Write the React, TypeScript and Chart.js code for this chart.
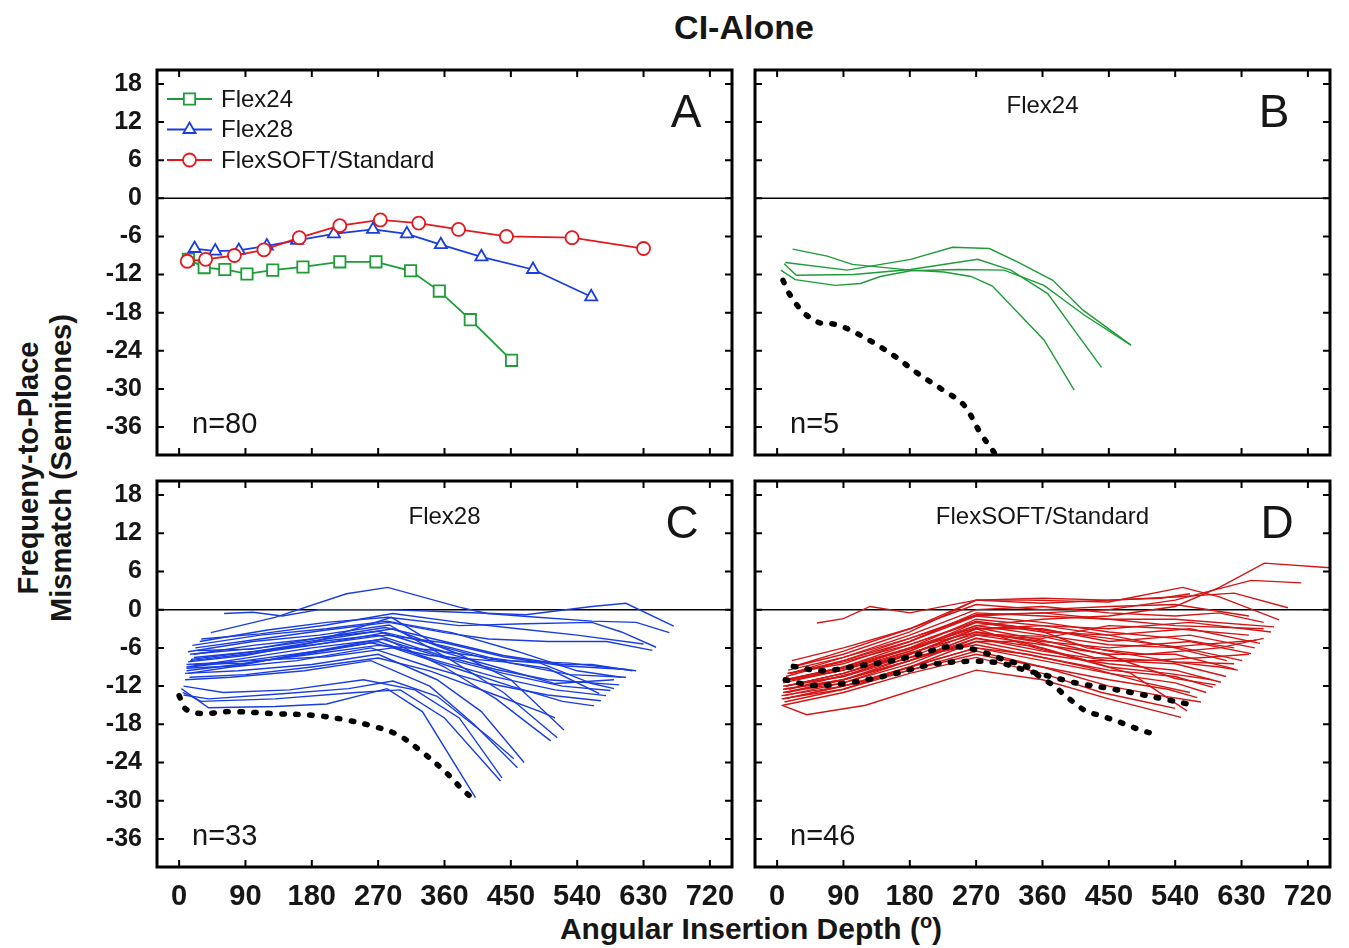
import React, { useEffect, useRef } from "react";
import { Chart, registerables } from "chart.js";

Chart.register(...registerables);

type Pt = [number, number];

// ---------- axes ----------
const X_TICKS = [0, 90, 180, 270, 360, 450, 540, 630, 720];
const Y_TICKS = [18, 12, 6, 0, -6, -12, -18, -24, -30, -36];
const X_RANGE: Pt = [-30, 750];
const Y_RANGE: Pt = [-40.4, 20.2];

// ---------- text ----------
const TITLE = "CI-Alone";
const Y_TITLE = ["Frequeny-to-Place", "Mismatch (Semitones)"];
const X_TITLE = "Angular Insertion Depth (";
const SERIES = ["Flex24", "Flex28", "FlexSOFT/Standard"];
const PANEL_LETTERS = ["A", "B", "C", "D"];
const PANEL_N = ["n=80", "n=5", "n=33", "n=46"];

// ---------- panel A: group means ----------
const FLEX24_MEAN: Pt[] = [
  [12.6, -9.6], [34, -10.9], [62, -11.2], [92, -11.9], [127, -11.3], [168, -10.8],
  [218, -10.0], [267, -10.0], [314, -11.4], [353, -14.6], [395, -19.1], [451, -25.5],
];
const FLEX28_MEAN: Pt[] = [
  [21, -7.9], [49, -8.3], [81, -8.2], [119, -7.5], [160, -6.6], [210, -5.6],
  [263, -4.9], [309, -5.6], [355, -7.3], [410, -9.2], [480, -11.2], [559, -15.5],
];
const FLEXSOFT_MEAN: Pt[] = [
  [11, -9.9], [36, -9.6], [75, -9.0], [115, -8.1], [163, -6.2], [218, -4.3],
  [273, -3.4], [325, -3.9], [379, -4.9], [444, -6.0], [533, -6.2], [630, -7.9],
];

// ---------- panel B: Flex24 subjects ----------
const FLEX24_SUBJECTS: Pt[][] = [
  [[21, -8.0], [68, -9.1], [102, -10.4], [181, -11.3], [226, -11.6], [263, -12.3], [292, -13.8], [362, -22.3], [403, -30.2]],
  [[11, -10.1], [95, -11.3], [181, -9.6], [238, -7.7], [288, -7.9], [326, -10.0], [374, -12.9], [415, -17.6], [480, -23.1]],
  [[9.5, -10.3], [26, -12.1], [104, -12.0], [181, -11.2], [272, -9.6], [317, -11.3], [367, -15.0], [440, -26.6]],
  [[5, -11.3], [24.5, -12.8], [79, -13.7], [113, -13.4], [140, -12.3], [181, -11.4], [245, -11.2], [308, -11.3], [362, -13.7], [417, -18.4], [480, -23.1]],
];
const FLEX24_REF: Pt[] = [
  [8, -12.9], [15, -14.7], [27, -16.8], [40, -18.4], [58, -19.6], [77, -19.8], [95, -20.5],
  [129, -22.6], [160, -24.9], [190, -27.5], [224, -30.1], [253, -32.5], [276, -37.0], [295, -40.1], [305, -42],
];

// ---------- panel C: Flex28 subjects ----------
const FLEX28_SUBJECTS: Pt[][] = [
  [[43, -3.6], [130, -1.2], [227, 2.5], [283, 3.5], [380, 0.4], [418, -0.6], [486, -1.2], [560, -1.8], [620, -2.0], [665, -3.6]],
  [[61, -0.6], [100, -0.4], [140, -1.0], [190, 0], [283, 0], [380, -0.4], [470, -0.8], [560, 0.5], [606, 1.0], [671, -2.6]],
  [[28, -5.0], [120, -3.2], [200, -2.0], [283, -1.2], [380, -2.5], [470, -2.2], [560, -2.0], [600, -3.5], [647, -5.9]],
  [[22, -6.0], [110, -4.6], [200, -3.2], [285, -2.0], [360, -3.6], [420, -4.6], [500, -5.0], [580, -5.0], [642, -6.4]],
  [[20, -7.0], [100, -5.6], [180, -4.6], [280, -2.8], [360, -5.0], [440, -7.2], [520, -8.6], [560, -8.6], [615, -9.6]],
  [[15, -8.0], [90, -7.0], [180, -5.6], [280, -3.6], [370, -6.0], [450, -8.4], [530, -10.2], [606, -10.6]],
  [[20, -7.5], [100, -6.6], [190, -5.0], [270, -4.0], [350, -7.0], [430, -9.4], [500, -11.0], [597, -11.8]],
  [[15, -9.0], [90, -8.0], [180, -6.6], [275, -4.6], [360, -7.6], [440, -10.0], [520, -12.0], [585, -12.7]],
  [[10, -9.6], [80, -8.6], [170, -7.0], [270, -5.0], [350, -8.0], [430, -10.6], [510, -12.6], [579, -13.5]],
  [[12, -10.0], [70, -9.0], [160, -8.0], [260, -6.0], [340, -9.0], [420, -11.6], [500, -13.4], [572, -14.3]],
  [[10, -8.6], [100, -8.0], [200, -7.4], [290, -6.0], [370, -9.0], [450, -12.0], [520, -14.4], [563, -15.1]],
  [[15, -7.0], [110, -6.0], [200, -4.6], [290, -3.0], [380, -7.0], [450, -11.0], [522, -18.9]],
  [[12, -6.6], [100, -5.0], [190, -4.0], [285, -2.4], [370, -8.0], [440, -13.0], [513, -20.1]],
  [[10, -9.0], [90, -7.6], [180, -6.0], [280, -4.6], [360, -9.0], [430, -14.0], [504, -20.6]],
  [[8, -10.0], [80, -9.6], [180, -8.6], [270, -7.0], [350, -11.0], [410, -16.0], [468, -24.0]],
  [[8, -11.0], [70, -10.6], [170, -9.6], [260, -8.0], [340, -12.0], [400, -18.0], [459, -24.8]],
  [[6, -12.0], [60, -13.0], [150, -12.6], [250, -11.0], [320, -12.6], [380, -17.0], [438, -26.4]],
  [[5, -13.0], [30, -14.4], [130, -14.0], [240, -13.0], [300, -12.6], [360, -17.0], [436, -26.9]],
  [[3, -12.4], [40, -15.4], [130, -15.2], [200, -14.8], [282, -12.4], [330, -16.0], [402, -29.5]],
  [[18, -5.6], [110, -4.0], [200, -3.0], [282, -1.8], [370, -3.6], [460, -6.6], [540, -9.6], [600, -10.6]],
  [[25, -6.4], [100, -6.2], [190, -4.4], [270, -3.4], [360, -6.6], [450, -8.0], [530, -8.4], [620, -9.6]],
  [[12, -8.2], [90, -7.2], [180, -5.2], [288, -1.2], [350, -5.6], [420, -7.8], [490, -8.4], [560, -11.6], [590, -12.4]],
  [[10, -9.2], [80, -8.8], [170, -6.8], [260, -5.2], [340, -7.2], [440, -8.2], [500, -9.2], [570, -13.2]],
  [[30, -4.6], [110, -3.8], [200, -2.4], [290, -0.6], [380, -2.0], [460, -3.0], [540, -4.0], [630, -5.4]],
  [[14, -10.6], [90, -10.2], [180, -9.0], [270, -7.6], [340, -9.6], [420, -13.0], [490, -16.0], [510, -17.0]],
  [[6, -13.4], [40, -14.0], [140, -13.2], [230, -12.4], [290, -11.2], [350, -13.6], [420, -20.0], [454, -23.4]],
  [[16, -7.8], [100, -6.6], [190, -5.4], [280, -4.0], [360, -5.2], [440, -7.4], [520, -8.8], [608, -9.4]],
  [[20, -8.6], [90, -8.4], [180, -7.0], [270, -5.6], [350, -6.4], [430, -9.0], [510, -11.6], [590, -11.0]],
];
const FLEX28_REF: Pt[] = [
  [0, -13.5], [9, -15.6], [29, -16.3], [70, -16.0], [126, -16.3], [183, -16.6], [221, -17.2],
  [260, -18.2], [296, -19.6], [328, -22.2], [357, -25.0], [371, -26.6], [384, -28.2], [398, -29.6],
];

// ---------- panel D: FlexSOFT/Standard subjects ----------
const FLEXSOFT_SUBJECTS: Pt[][] = [
  [[20, -11], [90, -9.5], [180, -6], [270, -2.5], [360, -1.5], [450, -1], [540, 0.5], [600, 3.5], [661, 7.3], [760, 6.5]],
  [[18, -10], [90, -8], [180, -4.5], [270, -1], [360, -0.5], [450, 0], [540, 1.5], [643, 4.6], [711, 4.2]],
  [[54, -2.1], [90, -1.4], [126, 0.5], [180, -0.5], [270, 1.5], [360, 1.0], [450, 1.5], [540, 2.0], [620, 2.6], [693, 0.3]],
  [[20, -9], [90, -7], [180, -3.5], [270, 1.5], [340, 1.5], [450, 1.2], [550, 3.5], [600, 2], [681, -1.6]],
  [[15, -10], [90, -8.5], [180, -5], [270, -0.5], [360, -1], [450, -1.5], [540, -1.5], [674, -2.7]],
  [[15, -11], [90, -9.5], [180, -6], [270, -1.5], [360, -2.5], [450, -3], [560, -2], [670, -3.5]],
  [[12, -12], [90, -10], [180, -6.5], [270, -2], [360, -3.5], [450, -4], [560, -3], [655, -5.3]],
  [[10, -12], [90, -10.5], [180, -7], [270, -3], [360, -3], [450, -5], [560, -4], [648, -6.0]],
  [[10, -13], [90, -11], [180, -7.5], [270, -3.5], [360, -5], [450, -6], [560, -5], [643, -6.9]],
  [[8, -11.5], [90, -9.5], [180, -6.5], [270, -2.5], [360, -4], [450, -5.5], [550, -6], [631, -8.0]],
  [[8, -12.5], [90, -11], [180, -8], [270, -4], [360, -5.5], [450, -7], [540, -7], [620, -9.3]],
  [[8, -13], [90, -11.5], [180, -8.5], [270, -4.5], [360, -6.5], [450, -8], [540, -8.5], [609, -10.5]],
  [[8, -14], [90, -12], [180, -9], [270, -5], [360, -7], [450, -8.5], [540, -9.5], [602, -11.4]],
  [[8, -12], [90, -10.5], [180, -7.5], [270, -5.5], [360, -7.5], [450, -9.5], [540, -10.5], [591, -12.2]],
  [[6, -13.5], [90, -12], [180, -9], [270, -6], [360, -8], [450, -10], [540, -11.5], [582, -13.0]],
  [[6, -14], [90, -12.5], [180, -9.5], [270, -6.5], [360, -9], [450, -11], [530, -12.5], [570, -13.8]],
  [[6, -15], [40, -16.5], [120, -15], [270, -9.5], [360, -11], [450, -14], [548, -16.9]],
  [[10, -12.5], [90, -11], [180, -8], [270, -4], [360, -4.5], [450, -2.5], [540, -3], [640, -4]],
  [[12, -10.5], [90, -8], [180, -5], [270, -1], [360, -2], [450, -3.5], [540, -4.5], [620, -6]],
  [[15, -9.5], [90, -7.5], [180, -4], [270, 0], [360, 0.5], [450, -0.5], [540, -1], [600, -0.5], [660, -2]],
  [[20, -8], [90, -6], [180, -3], [270, 1.5], [360, 1.8], [450, 1.5], [520, 1.8], [560, 2.5]],
  [[10, -13.5], [90, -11.5], [180, -8], [270, -5], [330, -5], [400, -7.5], [480, -10], [556, -15.9]],
  [[10, -14.5], [90, -12.5], [180, -9], [270, -6], [340, -7], [420, -9], [500, -11.5], [560, -13]],
  [[12, -12], [90, -10], [180, -7], [270, -3], [350, -6], [420, -8], [500, -8], [580, -7.5], [640, -7]],
  [[12, -11], [90, -9], [180, -5.5], [270, -2], [350, -3], [420, -6], [500, -7], [600, -6], [660, -4.5]],
  [[14, -11], [90, -9], [180, -6], [270, -3.5], [350, -5], [430, -7.5], [520, -8], [600, -9], [625, -9.5]],
  [[14, -13], [90, -11], [180, -8], [270, -4.5], [360, -6], [450, -9], [530, -10], [590, -11]],
  [[16, -12.5], [100, -10], [180, -7], [270, -3], [360, -2.5], [450, -4], [540, -6], [610, -8]],
  [[18, -10], [90, -7.5], [180, -4.5], [270, -0.8], [360, -0.5], [450, -1.5], [540, -2.5], [660, -3]],
  [[10, -14], [90, -12], [180, -9.5], [270, -7], [360, -9], [450, -12], [520, -13.5], [575, -14.5]],
  [[8, -15], [90, -13], [180, -10], [270, -7.5], [360, -10], [440, -13], [500, -14.5], [540, -15.5]],
  [[20, -9], [90, -6.5], [180, -3], [270, 0.8], [360, 0], [450, 0.5], [540, 0.8], [640, -1]],
  [[12, -12], [90, -10], [180, -6.8], [270, -3.8], [360, -4.2], [450, -6.5], [540, -8.2], [620, -8.5]],
  [[10, -11], [90, -9.2], [180, -6.2], [270, -2.8], [360, -4.8], [450, -7.2], [540, -10.8], [595, -11.8]],
  [[14, -10], [90, -8.2], [180, -5.5], [270, -1.8], [360, -3.2], [450, -4.5], [540, -5.8], [650, -4.8]],
];
const FLEXSOFT_REF_1: Pt[] = [
  [22, -8.9], [61.5, -9.6], [100.5, -9.0], [137, -8.4], [173, -7.6], [210, -6.4], [233, -5.8], [251, -5.9],
  [272, -6.4], [309, -7.9], [340, -9.0], [357, -10.6], [375, -11.9], [389, -13.3], [403, -14.6], [420, -16.0],
  [438, -16.6], [456, -17.3], [475, -18.1], [493, -18.9], [511, -19.5],
];
const FLEXSOFT_REF_2: Pt[] = [
  [11, -11.0], [48.5, -11.9], [90, -11.6], [126.5, -10.9], [158, -10.1], [210, -8.6], [262, -8.1], [303, -8.4],
  [340, -9.6], [371, -10.5], [391, -11.1], [409, -11.6], [447, -12.3], [485, -13.1], [523, -14.0], [561, -14.9],
];

// ---------- colours ----------
const GREEN = "#1e9c38";
const BLUE = "#1a3de0";
const RED = "#d31515";
const RED_MEAN = "#e3191e";
const FONT = "'Liberation Sans', Arial, Helvetica, sans-serif";
const TEXT = "#161616";

const toXY = (l: Pt[]) => l.map(([x, y]) => ({ x, y }));

const subjectSets = (lines: Pt[][], color: string) =>
  lines.map((l) => ({
    data: toXY(l),
    borderColor: color,
    borderWidth: 1.4,
    pointRadius: 0,
    tension: 0,
    fill: false,
  }));

const dottedSet = (l: Pt[]) => ({
  data: toXY(l),
  borderColor: "#000",
  borderWidth: 5.5,
  borderDash: [2.5, 11.5],
  borderCapStyle: "round",
  pointRadius: 0,
  tension: 0.35,
  fill: false,
});

const meanSet = (l: Pt[], label: string, color: string, style: string, r: number) => ({
  label,
  data: toXY(l),
  borderColor: color,
  borderWidth: 1.8,
  pointStyle: style,
  pointRadius: r,
  pointBorderWidth: 1.8,
  pointBorderColor: color,
  pointBackgroundColor: "#fff",
  tension: 0,
  fill: false,
});

function drawMarker(ctx: CanvasRenderingContext2D, style: string, x: number, y: number, r: number) {
  ctx.beginPath();
  if (style === "rect") {
    const s = Math.SQRT1_2 * r;
    ctx.rect(x - s, y - s, 2 * s, 2 * s);
  } else if (style === "triangle") {
    const a = (2 * Math.PI) / 3;
    for (let i = 0; i < 3; i++) {
      const ang = i * a;
      const px = x + Math.sin(ang) * r;
      const py = y - Math.cos(ang) * r;
      if (i === 0) ctx.moveTo(px, py);
      else ctx.lineTo(px, py);
    }
    ctx.closePath();
  } else {
    ctx.arc(x, y, r, 0, Math.PI * 2);
  }
  ctx.fill();
  ctx.stroke();
}

const framePlugin = {
  id: "frame",
  beforeDatasetsDraw(chart: any) {
    const { ctx, chartArea: a, scales } = chart;
    const y0 = scales.y.getPixelForValue(0);
    ctx.save();
    ctx.strokeStyle = "#000";
    ctx.lineWidth = 1.5;
    ctx.beginPath();
    ctx.moveTo(a.left, y0);
    ctx.lineTo(a.right, y0);
    ctx.stroke();
    ctx.restore();
  },
  afterDraw(chart: any, _args: any, opts: any) {
    const { ctx, chartArea: a, scales } = chart;
    ctx.save();
    // inward ticks
    ctx.strokeStyle = "#000";
    ctx.lineWidth = 2;
    const tl = 7;
    ctx.beginPath();
    X_TICKS.forEach((v) => {
      const px = scales.x.getPixelForValue(v);
      ctx.moveTo(px, a.bottom);
      ctx.lineTo(px, a.bottom - tl);
      ctx.moveTo(px, a.top);
      ctx.lineTo(px, a.top + tl);
    });
    Y_TICKS.forEach((v) => {
      const py = scales.y.getPixelForValue(v);
      ctx.moveTo(a.left, py);
      ctx.lineTo(a.left + tl, py);
      ctx.moveTo(a.right, py);
      ctx.lineTo(a.right - tl, py);
    });
    ctx.stroke();
    // frame
    ctx.lineWidth = 3;
    ctx.strokeRect(a.left, a.top, a.right - a.left, a.bottom - a.top);

    ctx.fillStyle = TEXT;
    // panel letter
    ctx.font = `46px ${FONT}`;
    ctx.textAlign = "center";
    ctx.textBaseline = "middle";
    ctx.fillText(opts.letter, a.right - opts.letterDx, a.top + 44);
    // subtitle
    if (opts.subtitle) {
      ctx.font = `24px ${FONT}`;
      ctx.fillText(opts.subtitle, (a.left + a.right) / 2, a.top + 36);
    }
    // n label
    ctx.font = `29px ${FONT}`;
    ctx.textAlign = "left";
    ctx.fillText(opts.n, a.left + 35, a.bottom - 30);

    // legend (panel A)
    if (opts.legend) {
      opts.legend.forEach((it: any, i: number) => {
        const y = a.top + 29 + i * 30.5;
        ctx.strokeStyle = it.color;
        ctx.lineWidth = 1.8;
        ctx.beginPath();
        ctx.moveTo(a.left + 10, y);
        ctx.lineTo(a.left + 55, y);
        ctx.stroke();
        ctx.fillStyle = "#fff";
        drawMarker(ctx, it.style, a.left + 32.5, y, it.r);
        ctx.fillStyle = TEXT;
        ctx.font = `24px ${FONT}`;
        ctx.textAlign = "left";
        ctx.textBaseline = "middle";
        ctx.fillText(it.label, a.left + 64, y + 1);
      });
    }
    ctx.restore();
  },
};

type Box = { left: number; top: number; width: number; height: number };
type Area = { left: number; top: number; right: number; bottom: number };

function Panel(props: { box: Box; area: Area; showX: boolean; showY: boolean; datasets: any[]; deco: any }) {
  const ref = useRef<HTMLCanvasElement>(null);
  useEffect(() => {
    const { box, area, showX, showY, datasets, deco } = props;
    const yW = area.left - box.left;
    const xH = box.top + box.height - area.bottom;
    const chart = new Chart(ref.current as HTMLCanvasElement, {
      type: "line",
      data: { datasets },
      options: {
        responsive: false,
        animation: false,
        events: [],
        layout: {
          padding: { left: 0, bottom: 0, top: area.top - box.top, right: box.left + box.width - area.right },
        },
        plugins: {
          legend: { display: false },
          tooltip: { enabled: false },
          frame: deco,
        } as any,
        scales: {
          x: {
            type: "linear",
            min: X_RANGE[0],
            max: X_RANGE[1],
            grid: { display: false },
            border: { display: false },
            afterBuildTicks: (s: any) => {
              s.ticks = X_TICKS.map((v) => ({ value: v }));
            },
            afterFit: (s: any) => {
              s.height = xH;
              s.paddingLeft = 0;
              s.paddingRight = 0;
              s.paddingTop = 0;
              s.paddingBottom = 0;
            },
            ticks: {
              display: showX,
              autoSkip: false,
              maxRotation: 0,
              minRotation: 0,
              padding: 5,
              color: TEXT,
              font: { family: FONT, size: 29, weight: "bold" },
            },
          },
          y: {
            type: "linear",
            min: Y_RANGE[0],
            max: Y_RANGE[1],
            grid: { display: false },
            border: { display: false },
            afterBuildTicks: (s: any) => {
              s.ticks = Y_TICKS.map((v) => ({ value: v }));
            },
            afterFit: (s: any) => {
              s.width = yW;
              s.paddingLeft = 0;
              s.paddingRight = 0;
              s.paddingTop = 0;
              s.paddingBottom = 0;
            },
            ticks: {
              display: showY,
              autoSkip: false,
              padding: 7,
              color: TEXT,
              font: { family: FONT, size: 25, weight: "bold" },
            },
          },
        },
      } as any,
      plugins: [framePlugin as any],
    });
    return () => chart.destroy();
  }, []);
  const { box } = props;
  return (
    <canvas
      ref={ref}
      width={box.width}
      height={box.height}
      style={{ position: "absolute", left: box.left, top: box.top, width: box.width, height: box.height }}
    />
  );
}

export default function App() {
  const legend = [
    { label: SERIES[0], color: GREEN, style: "rect", r: 8 },
    { label: SERIES[1], color: BLUE, style: "triangle", r: 7 },
    { label: SERIES[2], color: RED_MEAN, style: "circle", r: 6.5 },
  ];
  const dsA = [
    meanSet(FLEXSOFT_MEAN, SERIES[2], RED_MEAN, "circle", 6.5),
    meanSet(FLEX28_MEAN, SERIES[1], BLUE, "triangle", 7),
    meanSet(FLEX24_MEAN, SERIES[0], GREEN, "rect", 8),
  ];
  const dsB = [dottedSet(FLEX24_REF), ...subjectSets(FLEX24_SUBJECTS, GREEN)];
  const dsC = [dottedSet(FLEX28_REF), ...subjectSets(FLEX28_SUBJECTS, BLUE)];
  const dsD = [dottedSet(FLEXSOFT_REF_1), dottedSet(FLEXSOFT_REF_2), ...subjectSets(FLEXSOFT_SUBJECTS, RED)];

  return (
    <div style={{ position: "absolute", left: 0, top: 0, width: 1349, height: 948, background: "#fff", overflow: "hidden" }}>
      <div
        style={{
          position: "absolute",
          left: 544,
          width: 400,
          top: 8,
          textAlign: "center",
          font: `bold 34px ${FONT}`,
          color: TEXT,
        }}
      >
        {TITLE}
      </div>
      <div
        style={{
          position: "absolute",
          left: 46 - 250,
          top: 468 - 34,
          width: 500,
          height: 68,
          transform: "rotate(-90deg)",
          transformOrigin: "50% 50%",
          textAlign: "center",
          font: `bold 29px ${FONT}`,
          lineHeight: "33px",
          color: TEXT,
        }}
      >
        <div>{Y_TITLE[0]}</div>
        <div>{Y_TITLE[1]}</div>
      </div>
      <div
        style={{
          position: "absolute",
          left: 451,
          width: 600,
          top: 912,
          textAlign: "center",
          font: `bold 30px ${FONT}`,
          color: TEXT,
          whiteSpace: "nowrap",
        }}
      >
        {X_TITLE}
        <sup style={{ fontSize: 20, verticalAlign: "0.55em", lineHeight: 0 }}>o</sup>)
      </div>

      <Panel
        box={{ left: 0, top: 55, width: 745, height: 415 }}
        area={{ left: 157, top: 70, right: 732, bottom: 455 }}
        showX={false}
        showY={true}
        datasets={dsA}
        deco={{ letter: PANEL_LETTERS[0], letterDx: 46, n: PANEL_N[0], legend }}
      />
      <Panel
        box={{ left: 745, top: 55, width: 600, height: 415 }}
        area={{ left: 755, top: 70, right: 1330, bottom: 455 }}
        showX={false}
        showY={false}
        datasets={dsB}
        deco={{ letter: PANEL_LETTERS[1], letterDx: 56, n: PANEL_N[1], subtitle: SERIES[0] }}
      />
      <Panel
        box={{ left: 0, top: 470, width: 745, height: 440 }}
        area={{ left: 157, top: 481, right: 732, bottom: 867 }}
        showX={true}
        showY={true}
        datasets={dsC}
        deco={{ letter: PANEL_LETTERS[2], letterDx: 50, n: PANEL_N[2], subtitle: SERIES[1] }}
      />
      <Panel
        box={{ left: 745, top: 470, width: 600, height: 440 }}
        area={{ left: 755, top: 481, right: 1330, bottom: 867 }}
        showX={true}
        showY={false}
        datasets={dsD}
        deco={{ letter: PANEL_LETTERS[3], letterDx: 53, n: PANEL_N[3], subtitle: SERIES[2] }}
      />
    </div>
  );
}
